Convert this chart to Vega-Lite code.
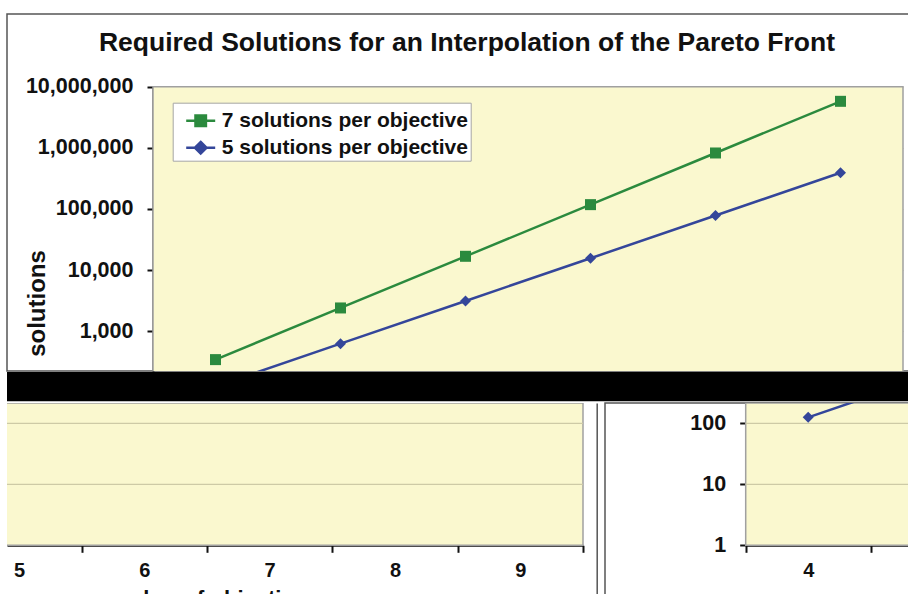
{
  "$schema": "https://vega.github.io/schema/vega-lite/v6.json",
  "background": "white",
  "padding": {"left": 6, "top": 13, "right": 0, "bottom": 0},
  "spacing": 0,
  "datasets": {
    "sol": [
      {"n": 4, "series": "7 solutions per objective", "value": 343},
      {"n": 5, "series": "7 solutions per objective", "value": 2401},
      {"n": 6, "series": "7 solutions per objective", "value": 16807},
      {"n": 7, "series": "7 solutions per objective", "value": 117649},
      {"n": 8, "series": "7 solutions per objective", "value": 823543},
      {"n": 9, "series": "7 solutions per objective", "value": 5764801},
      {"n": 4, "series": "5 solutions per objective", "value": 125},
      {"n": 5, "series": "5 solutions per objective", "value": 625},
      {"n": 6, "series": "5 solutions per objective", "value": 3125},
      {"n": 7, "series": "5 solutions per objective", "value": 15625},
      {"n": 8, "series": "5 solutions per objective", "value": 78125},
      {"n": 9, "series": "5 solutions per objective", "value": 390625}
    ],
    "ticks": [{"tick": 10}, {"tick": 100}]
  },
  "config": {
    "font": "Liberation Sans",
    "axis": {
      "labelFont": "Liberation Sans", "labelFontWeight": "bold", "labelColor": "#111",
      "titleFont": "Liberation Sans", "titleFontWeight": "bold", "titleColor": "#111",
      "domainColor": "#111", "domainWidth": 2, "tickColor": "#111", "tickWidth": 2,
      "gridColor": "#cdcaa6", "gridWidth": 1.2, "zindex": 1,
      "labelOverlap": false, "labelFlush": false, "labelBound": false
    }
  },
  "vconcat": [
    {
      "width": 920,
      "height": 357,
      "view": {"fill": "white", "stroke": "#555", "strokeWidth": 1.5},
      "title": {
        "text": "Required Solutions for an Interpolation of the Pareto Front",
        "font": "Liberation Sans", "fontSize": 26.5, "fontWeight": "bold", "color": "#111",
        "anchor": "middle", "frame": "group", "offset": -37, "dy": 26, "baseline": "alphabetic"
      },
      "data": {"name": "sol"},
      "layer": [
        {
          "data": {"values": [{"area": "plot"}]},
          "mark": {"type": "rect", "fill": "#faf8cf", "stroke": "#a0a0a0", "strokeWidth": 1.5, "clip": true},
          "encoding": {
            "x": {"datum": 3.5, "type": "quantitative",
                  "scale": {"domain": [3.5, 9.5], "range": [146, 896], "nice": false, "zero": false},
                  "axis": null},
            "x2": {"datum": 9.5},
            "y": {"datum": 10000000, "type": "quantitative",
                  "scale": {"type": "log", "domain": [223.4, 10000000], "range": [357, 72.7], "nice": false, "zero": false},
                  "axis": {
                    "orient": "left", "offset": -146,
                    "values": [1000, 10000, 100000, 1000000, 10000000], "format": ",d",
                    "labelFontSize": 21.5, "labelPadding": 14, "tickSize": 6,
                    "grid": true,
                    "title": "solutions", "titleFontSize": 24, "titleAngle": 270,
                    "titleX": -109, "titleY": 289, "titleBaseline": "alphabetic", "titleAlign": "center"
                  }},
            "y2": {"datum": 1}
          }
        },
        {
          "mark": {"type": "line", "strokeWidth": 2.5, "clip": true},
          "encoding": {
            "x": {"field": "n", "type": "quantitative"},
            "y": {"field": "value", "type": "quantitative"},
            "color": {
              "field": "series", "type": "nominal",
              "scale": {"domain": ["7 solutions per objective", "5 solutions per objective"], "range": ["#2b8a3e", "#34469a"]},
              "legend": {
                "orient": "none", "legendX": 165.7, "legendY": 88.7, "title": null,
                "fillColor": "white", "strokeColor": "#a6a6a6", "padding": 2,
                "symbolSize": 841, "symbolOffset": 10, "labelOffset": 5, "labelLimit": 500,
                "labelFont": "Liberation Sans", "labelFontSize": 21, "labelFontWeight": "bold", "labelColor": "#111",
                "rowPadding": 0, "zindex": 2,
                "encode": {
                  "symbols": {
                    "update": {
                      "shape": {"signal": "datum.value === '7 solutions per objective' ? 'M-1,0H1M-0.36,-0.36H0.36V0.36H-0.36Z' : 'M-1,0H1M0,-0.4L0.4,0L0,0.4L-0.4,0Z'"},
                      "fill": {"signal": "datum.value === '7 solutions per objective' ? '#2b8a3e' : '#34469a'"},
                      "stroke": {"signal": "datum.value === '7 solutions per objective' ? '#2b8a3e' : '#34469a'"},
                      "strokeWidth": {"value": 2.5},
                      "opacity": {"value": 1},
                      "fillOpacity": {"value": 1}
                    }
                  }
                }
              }
            }
          }
        },
        {
          "transform": [{"filter": "datum.series === '7 solutions per objective'"}],
          "mark": {"type": "point", "shape": "square", "filled": true, "size": 121, "opacity": 1, "clip": true},
          "encoding": {
            "x": {"field": "n", "type": "quantitative"},
            "y": {"field": "value", "type": "quantitative"},
            "color": {"field": "series", "type": "nominal"}
          }
        },
        {
          "transform": [{"filter": "datum.series === '5 solutions per objective'"}],
          "mark": {"type": "point", "shape": "diamond", "filled": true, "size": 121, "opacity": 1, "clip": true},
          "encoding": {
            "x": {"field": "n", "type": "quantitative"},
            "y": {"field": "value", "type": "quantitative"},
            "color": {"field": "series", "type": "nominal"}
          }
        }
      ]
    },
    {
      "width": 920,
      "height": 29.2,
      "view": {"stroke": null},
      "data": {"values": [{"bar": "redaction"}]},
      "mark": {"type": "rect", "color": "#000"},
      "encoding": {}
    },
    {
      "spacing": 7,
      "hconcat": [
        {
          "width": 589.7,
          "height": 200,
          "view": {"fill": "white", "stroke": null},
          "data": {"name": "sol"},
          "layer": [
            {
              "data": {"values": [{"area": "plot"}]},
              "mark": {"type": "rect", "fill": "#faf8cf", "stroke": "#a0a0a0", "strokeWidth": 1.5, "clip": true},
              "encoding": {
                "x": {"datum": 3.5, "type": "quantitative",
                      "scale": {"domain": [4.904, 9.5], "range": [0, 576], "nice": false, "zero": false},
                      "axis": {
                        "orient": "bottom", "offset": -57.7, "grid": false,
                        "values": [5, 6, 7, 8, 9], "format": "d", "tickOffset": 62.5, "labelOffset": -62.5,
                        "tickSize": 7, "labelFontSize": 20, "labelPadding": 8,
                        "title": "number of objectives", "titleFontSize": 22,
                        "titleX": 200, "titleY": 60, "titleBaseline": "alphabetic", "titleAlign": "center"
                      }},
                "x2": {"datum": 9.5},
                "y": {"datum": 1, "type": "quantitative",
                      "scale": {"type": "log", "domain": [0.1133, 215], "nice": false, "zero": false},
                      "axis": {
                        "orient": "right", "values": [1, 10, 100],
                        "labels": false, "ticks": false,
                        "domainColor": "#555", "domainWidth": 1.5,
                        "grid": false, "title": null
                      }},
                "y2": {"datum": 215}
              }
            },
            {
              "data": {"name": "ticks"},
              "mark": {"type": "rule", "color": "#cdcaa6", "strokeWidth": 1.2, "clip": true},
              "encoding": {
                "x": {"datum": 3.5, "type": "quantitative"},
                "x2": {"datum": 9.5},
                "y": {"field": "tick", "type": "quantitative"}
              }
            },
            {
              "mark": {"type": "line", "strokeWidth": 2.5, "clip": true},
              "encoding": {
                "x": {"field": "n", "type": "quantitative"},
                "y": {"field": "value", "type": "quantitative"},
                "color": {"field": "series", "type": "nominal",
                          "scale": {"domain": ["7 solutions per objective", "5 solutions per objective"], "range": ["#2b8a3e", "#34469a"]},
                          "legend": null}
              }
            }
          ]
        },
        {
          "width": 320,
          "height": 200,
          "view": {"fill": "white", "stroke": "#555", "strokeWidth": 1.5},
          "data": {"name": "sol"},
          "layer": [
            {
              "data": {"values": [{"area": "plot"}]},
              "mark": {"type": "rect", "fill": "#faf8cf", "stroke": "#a0a0a0", "strokeWidth": 1.5, "clip": true},
              "encoding": {
                "x": {"datum": 3.5, "type": "quantitative",
                      "scale": {"domain": [3.5, 9.5], "range": [140.7, 890.7], "nice": false, "zero": false},
                      "axis": {
                        "orient": "bottom", "offset": -57.7, "grid": false,
                        "values": [4, 5], "format": "d", "tickOffset": -62.5, "labelOffset": 62.5,
                        "tickSize": 7, "labelFontSize": 20, "labelPadding": 8,
                        "title": null
                      }},
                "x2": {"datum": 9.5},
                "y": {"datum": 1, "type": "quantitative",
                      "scale": {"type": "log", "domain": [1, 215], "range": [142.3, 0], "nice": false, "zero": false},
                      "axis": {
                        "orient": "left", "offset": -140.7,
                        "values": [1, 10, 100], "format": ",d",
                        "labelFontSize": 21.5, "labelPadding": 14, "tickSize": 6,
                        "grid": false, "title": null
                      }},
                "y2": {"datum": 215}
              }
            },
            {
              "data": {"name": "ticks"},
              "mark": {"type": "rule", "color": "#cdcaa6", "strokeWidth": 1.2, "clip": true},
              "encoding": {
                "x": {"datum": 3.5, "type": "quantitative"},
                "x2": {"datum": 9.5},
                "y": {"field": "tick", "type": "quantitative"}
              }
            },
            {
              "mark": {"type": "line", "strokeWidth": 2.5, "clip": true},
              "encoding": {
                "x": {"field": "n", "type": "quantitative"},
                "y": {"field": "value", "type": "quantitative"},
                "color": {"field": "series", "type": "nominal",
                          "scale": {"domain": ["7 solutions per objective", "5 solutions per objective"], "range": ["#2b8a3e", "#34469a"]},
                          "legend": null}
              }
            },
            {
              "transform": [{"filter": "datum.series === '7 solutions per objective'"}],
              "mark": {"type": "point", "shape": "square", "filled": true, "size": 121, "opacity": 1, "clip": true},
              "encoding": {
                "x": {"field": "n", "type": "quantitative"},
                "y": {"field": "value", "type": "quantitative"},
                "color": {"field": "series", "type": "nominal", "legend": null}
              }
            },
            {
              "transform": [{"filter": "datum.series === '5 solutions per objective'"}],
              "mark": {"type": "point", "shape": "diamond", "filled": true, "size": 121, "opacity": 1, "clip": true},
              "encoding": {
                "x": {"field": "n", "type": "quantitative"},
                "y": {"field": "value", "type": "quantitative"},
                "color": {"field": "series", "type": "nominal", "legend": null}
              }
            }
          ]
        }
      ]
    }
  ]
}
